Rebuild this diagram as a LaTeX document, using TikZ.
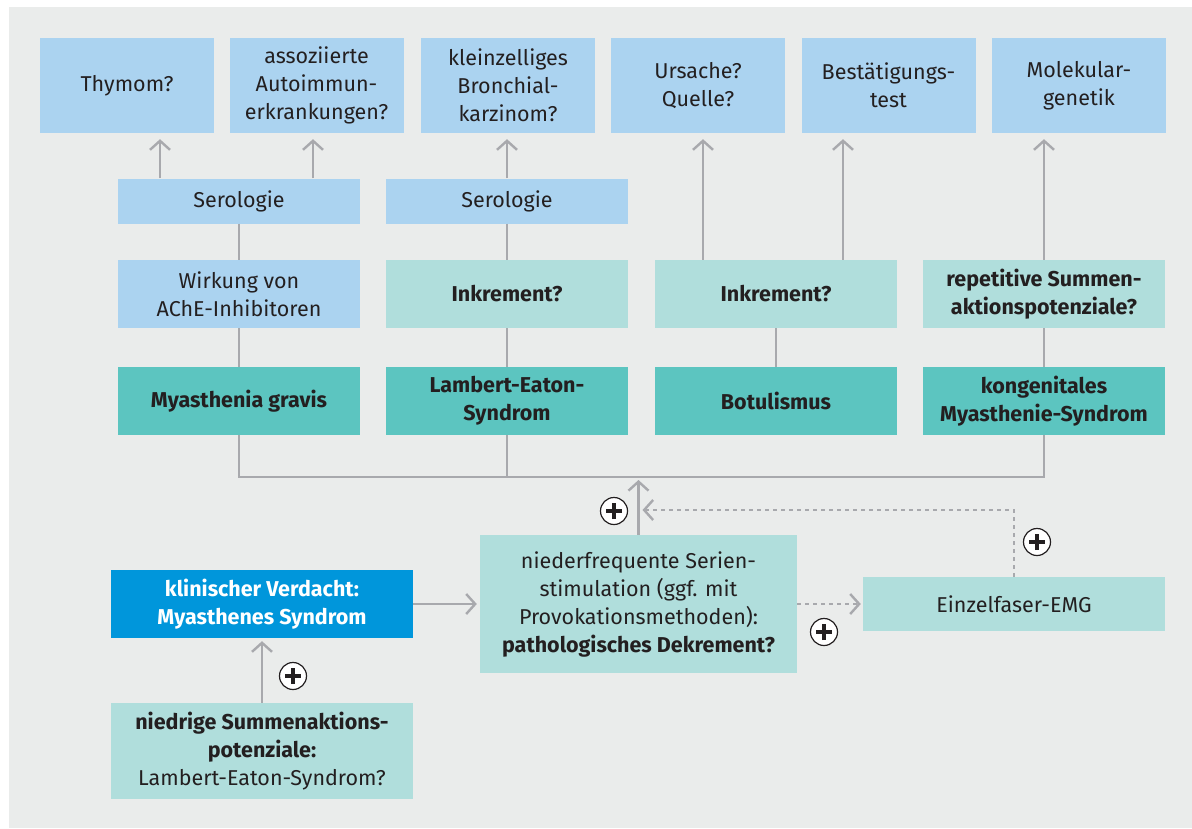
\documentclass[tikz,border=0pt]{standalone}
\usepackage{fontspec}
\setmainfont{Fira Sans}
\usepackage{xcolor}
\usepackage{tikz}
\usetikzlibrary{positioning,arrows.meta}

\definecolor{bgcol}{HTML}{EAECEB}
\definecolor{lblue}{HTML}{ABD3F0}
\definecolor{lteal}{HTML}{B0DEDC}
\definecolor{dteal}{HTML}{5CC5C0}
\definecolor{mblue}{HTML}{0096DB}
\definecolor{lgray}{HTML}{A8A9AD}
\definecolor{txt}{HTML}{231F20}

\newcommand{\boxfont}{\fontsize{21.5}{28}\selectfont}

\tikzset{
  box/.style={rectangle, inner sep=0pt, align=center, text=txt, font=\boxfont},
  qbox/.style={box, fill=lblue, minimum width=174pt, minimum height=95pt},
  serobox/.style={box, fill=lblue, minimum width=242pt, minimum height=45pt},
  testbox/.style={box, fill=lteal, minimum width=242pt, minimum height=68pt},
  diagbox/.style={box, fill=dteal, minimum width=242pt, minimum height=68pt, font=\boxfont\bfseries},
  link/.style={draw=lgray, line width=2.4pt},
  arr/.style={link, -{Straight Barb[length=9pt, width=20pt, line width=2.4pt]}, shorten >=6pt},
  darr/.style={arr, dash pattern=on 4pt off 4pt},
  plus/.style={circle, draw=txt, fill=white, line width=1.2pt, minimum size=27pt, inner sep=0pt,
    path picture={
      \draw[txt, line width=3.6pt] ([xshift=-8pt]path picture bounding box.center) -- ([xshift=8pt]path picture bounding box.center);
      \draw[txt, line width=3.6pt] ([yshift=-8pt]path picture bounding box.center) -- ([yshift=8pt]path picture bounding box.center);
    }}
}

\begin{document}
\begin{tikzpicture}[x=1pt, y=-1pt]

\useasboundingbox (0,0) rectangle (1192,828);
\fill[bgcol] (9,7) rectangle (1192,828);

% Fragestellungen
\node[qbox] (thy) at (127,85.5) {Thymom?};
\node[qbox] (auto) at (316.5,85.5) {assoziierte\\Autoimmun-\\erkrankungen?};
\node[qbox] (sclc) at (508,85.5) {kleinzelliges\\Bronchial-\\karzinom?};
\node[qbox] (urs) at (698,85.5) {Ursache?\\Quelle?};
\node[qbox] (best) at (888.5,85.5) {Bestätigungs-\\test};
\node[qbox] (mol) at (1079,85.5) {Molekular-\\genetik};

% Serologie
\node[serobox] (sero1) at (239,201) {Serologie};
\node[serobox] (sero2) at (507,201) {Serologie};

% Zusatzbefunde
\node[testbox, fill=lblue] (ache) at (239,294) {Wirkung von\\AChE-Inhibitoren};
\node[testbox, font=\boxfont\bfseries] (ink1) at (507,294) {Inkrement?};
\node[testbox, font=\boxfont\bfseries] (ink2) at (776,294) {Inkrement?};
\node[testbox, font=\boxfont\bfseries] (rep) at (1044,294) {repetitive Summen-\\aktionspotenziale?};

% Diagnosen
\node[diagbox] (mg) at (239,401) {Myasthenia gravis};
\node[diagbox] (les) at (507,401) {Lambert-Eaton-\\Syndrom};
\node[diagbox] (bot) at (776,401) {Botulismus};
\node[diagbox] (cms) at (1044,401) {kongenitales\\Myasthenie-Syndrom};

% Untersuchungsgang
\node[testbox, minimum width=317pt, minimum height=138pt] (rns) at (638.5,604)
  {niederfrequente Serien-\\stimulation (ggf. mit\\Provokationsmethoden):\\\textbf{pathologisches Dekrement?}};
\node[testbox, minimum width=302pt, minimum height=54pt] (sfemg) at (1014,604) {Einzelfaser-EMG};
\node[box, fill=mblue, text=white, minimum width=302pt, minimum height=68pt,
  font=\boxfont\bfseries] (klin) at (262,604) {klinischer Verdacht:\\Myasthenes Syndrom};
\node[testbox, minimum width=302pt, minimum height=96pt] (cmap) at (262,751)
  {\textbf{niedrige Summenaktions-}\\\textbf{potenziale:}\\Lambert-Eaton-Syndrom?};

\coordinate (bus) at (640,477);
\coordinate (back) at (0,510);

% Verbindungen
\draw[link] (sero1.south) -- (ache.north);
\draw[link] (ache.south) -- (mg.north);
\draw[link] (sero2.south) -- (ink1.north);
\draw[link] (ink1.south) -- (les.north);
\draw[link] (ink2.south) -- (bot.north);
\draw[link] (rep.south) -- (cms.north);
\draw[link] (mg.south) -- (mg.south |- bus) -- (cms.south |- bus) -- (cms.south);
\draw[link] (les.south) -- (les.south |- bus);

% Pfeile nach oben
\draw[arr] ([xshift=-79]sero1.north) coordinate (a1) -- (a1 |- thy.south);
\draw[arr] ([xshift=74]sero1.north) coordinate (a2) -- (a2 |- auto.south);
\draw[arr] (sero2.north) -- (sero2.north |- sclc.south);
\draw[arr] ([xshift=-73]ink2.north) coordinate (a3) -- (a3 |- urs.south);
\draw[arr] ([xshift=67]ink2.north) coordinate (a4) -- (a4 |- best.south);
\draw[arr] (rep.north) -- (rep.north |- mol.south);

% Untersuchungsgang
\draw[arr, shorten >=3pt] (rns.north) -- (rns.north |- bus);
\draw[arr, shorten >=3pt] (klin.east) -- (rns.west);
\draw[arr, shorten >=3pt] (cmap.north) -- (klin.south);
\draw[darr, shorten >=2pt] (rns.east) -- (sfemg.west);
\draw[darr, shorten >=0pt] (sfemg.north) |- ([xshift=4]rns.north |- back);

% positive Befunde
\node[plus] (p1) at (614,511) {};
\node[plus] (p2) at (824,632) {};
\node[plus] (p3) at (1037,542) {};
\node[plus] (p4) at (293,676) {};

\end{tikzpicture}
\end{document}
